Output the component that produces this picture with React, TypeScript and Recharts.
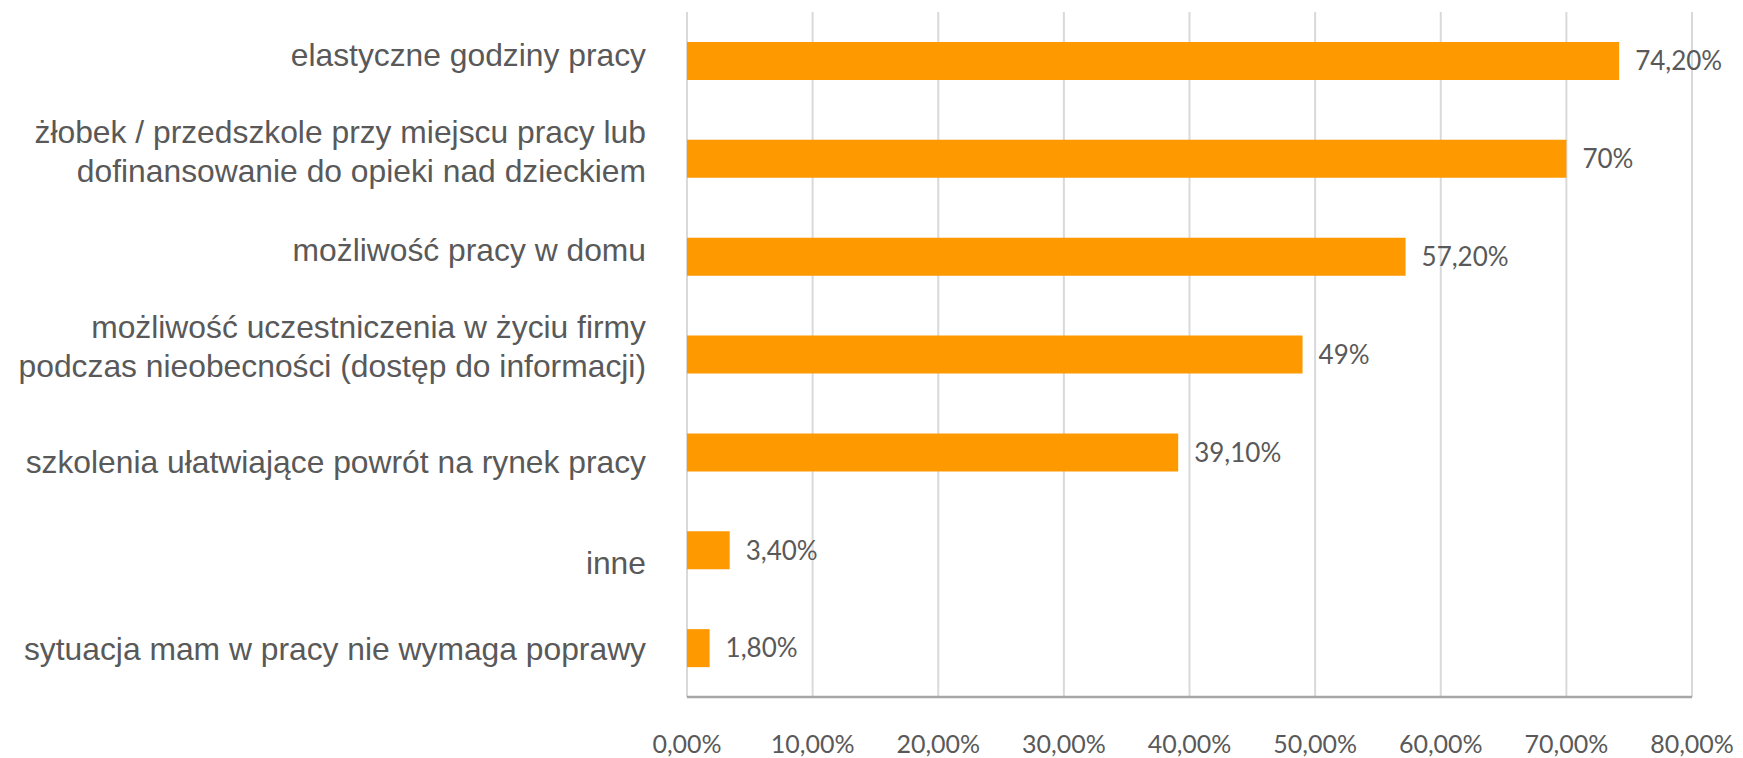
import { Bar, BarChart, CartesianGrid, LabelList, XAxis, YAxis } from "recharts";

const categories = [
  "elastyczne godziny pracy",
  "żłobek / przedszkole przy miejscu pracy lub\ndofinansowanie do opieki nad dzieckiem",
  "możliwość pracy w domu",
  "możliwość uczestniczenia w życiu firmy\npodczas nieobecności (dostęp do informacji)",
  "szkolenia ułatwiające powrót na rynek pracy",
  "inne",
  "sytuacja mam w pracy nie wymaga poprawy",
];

const values = [0.742, 0.7, 0.572, 0.49, 0.391, 0.034, 0.018];

const valueLabels = ["74,20%", "70%", "57,20%", "49%", "39,10%", "3,40%", "1,80%"];

const xTicks = [0, 0.1, 0.2, 0.3, 0.4, 0.5, 0.6, 0.7, 0.8];

const data = categories.map((name, i) => ({
  name,
  value: values[i],
  label: valueLabels[i],
}));

const TEXT = "#595959";

// the source spreads its category labels a little unevenly; nudge per row (px)
const labelShift = [1, 0, 0, -1, 17, 20, 8];

function pct(v: number): string {
  return (v * 100).toFixed(2).replace(".", ",") + "%";
}

function CategoryTick(props: any) {
  const { x, y, payload, index } = props;
  const lines = String(payload.value).split("\n");
  const lineGap = 39;
  const shift = labelShift[index] ?? 0;
  return (
    <text
      textAnchor="end"
      fill={TEXT}
      fontSize={31.8}
      fontFamily="'Liberation Sans', Arial, sans-serif"
    >
      {lines.map((ln, i) => (
        <tspan key={i} x={x} y={y + (i - (lines.length - 1) / 2) * lineGap + 4 + shift}>
          {ln}
        </tspan>
      ))}
    </text>
  );
}

function ValueTick(props: any) {
  const { x, y, payload } = props;
  return (
    <text
      x={x}
      y={y}
      dy="0.36em"
      textAnchor="middle"
      fill={TEXT}
      fontSize={25}
      fontFamily="Lato, sans-serif"
    >
      {pct(payload.value)}
    </text>
  );
}

export default function App() {
  return (
    <div style={{ position: "absolute", left: 0, top: 0 }}>
      <BarChart
        width={1743}
        height={758}
        data={data}
        layout="vertical"
        margin={{ top: 12, right: 51, bottom: 0, left: 0 }}
      >
        <CartesianGrid horizontal={false} stroke="#d9d9d9" strokeWidth={2} />
        <XAxis
          type="number"
          domain={[0, 0.8]}
          ticks={xTicks}
          height={61}
          tickSize={0}
          tickMargin={47}
          tickLine={false}
          axisLine={{ stroke: "#a6a6a6", strokeWidth: 2.5 }}
          tick={<ValueTick />}
          interval={0}
        />
        <YAxis
          type="category"
          dataKey="name"
          width={687}
          tickSize={0}
          tickMargin={41}
          tickLine={false}
          axisLine={false}
          tick={<CategoryTick />}
          interval={0}
        />
        <Bar dataKey="value" fill="#FF9900" barSize={38} isAnimationActive={false}>
          <LabelList
            dataKey="label"
            position="right"
            offset={16}
            fill={TEXT}
            fontSize={26}
            fontFamily="Lato, sans-serif"
          />
        </Bar>
      </BarChart>
    </div>
  );
}
